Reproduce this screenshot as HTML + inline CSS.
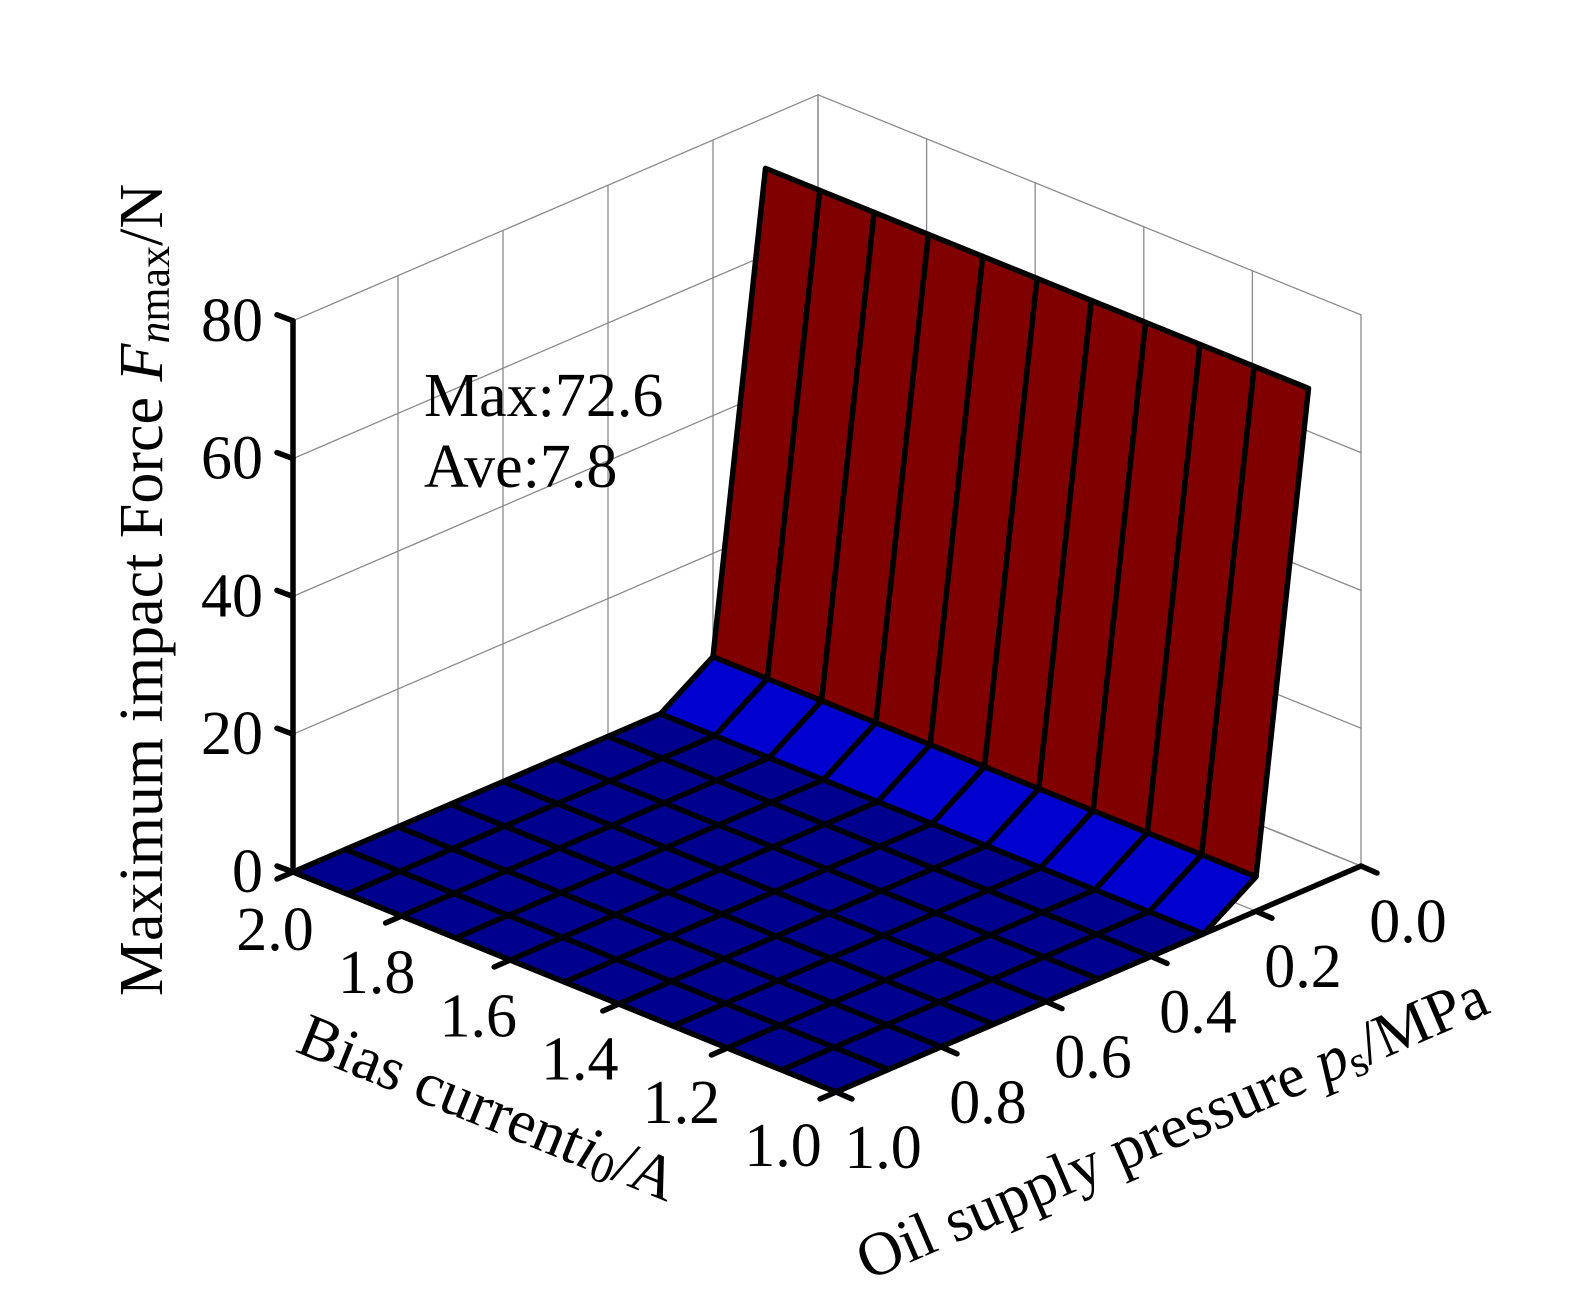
<!DOCTYPE html>
<html><head><meta charset="utf-8"><style>
html,body{margin:0;padding:0;background:#fff;}
svg{display:block;font-family:"Liberation Serif","DejaVu Serif",serif;}
</style></head><body>
<svg id="chart" width="1595" height="1309" viewBox="0 0 1595 1309" xmlns="http://www.w3.org/2000/svg">
<g id="grid"></g>
<g id="surf"></g>
<g id="axes"></g>
<text x="424" y="416" font-size="62">Max:72.6</text>
<text x="424" y="487" font-size="62">Ave:7.8</text>
<text x="0" y="0" font-size="62" text-anchor="middle" dominant-baseline="central" transform="translate(142,590) rotate(-90)">Maximum impact Force <tspan font-style="italic">F</tspan><tspan font-size="44" dy="12"><tspan font-style="italic">n</tspan>max</tspan><tspan dy="-12">/N</tspan></text>
<text x="0" y="0" font-size="62" text-anchor="middle" dominant-baseline="central" transform="translate(488,1108) rotate(22)">Bias current<tspan font-style="italic">i</tspan><tspan font-size="44" dy="12">0</tspan><tspan dy="-12">/A</tspan></text>
<text x="0" y="0" font-size="62" text-anchor="middle" dominant-baseline="central" transform="translate(1172,1128) rotate(-23.3)">Oil supply pressure <tspan font-style="italic">p</tspan><tspan font-size="44" dy="12">s</tspan><tspan dy="-12">/MPa</tspan></text>
</svg>
<script>
const currents = [1.0,1.1,1.2,1.3,1.4,1.5,1.6,1.7,1.8,1.9,2.0];
const pressures = [0.1,0.2,0.3,0.4,0.5,0.6,0.7,0.8,0.9,1.0];
const forceRows = [
 [72.6,72.6,72.6,72.6,72.6,72.6,72.6,72.6,72.6,72.6,72.6],
 [5,5,5,5,5,5,5,5,5,5,5],
 [0,0,0,0,0,0,0,0,0,0,0],
 [0,0,0,0,0,0,0,0,0,0,0],
 [0,0,0,0,0,0,0,0,0,0,0],
 [0,0,0,0,0,0,0,0,0,0,0],
 [0,0,0,0,0,0,0,0,0,0,0],
 [0,0,0,0,0,0,0,0,0,0,0],
 [0,0,0,0,0,0,0,0,0,0,0],
 [0,0,0,0,0,0,0,0,0,0,0]
];
const zTicks = [0,20,40,60,80];
const iTicks = [2.0,1.8,1.6,1.4,1.2,1.0];
const pTicks = [0.0,0.2,0.4,0.6,0.8,1.0];
const iTickLabels = ["2.0","1.8","1.6","1.4","1.2","1.0"];
const pTickLabels = ["0.0","0.2","0.4","0.6","0.8","1.0"];

const NS="http://www.w3.org/2000/svg";
function P(i,p,z){ return [293+(2-i)*543+(1-p)*525, 872+(2-i)*220-(1-p)*226-z*6.89]; }
function mk(tag,parent,attrs){const e=document.createElementNS(NS,tag);for(const k in attrs)e.setAttribute(k,attrs[k]);parent.appendChild(e);return e;}
function line(parent,a,b,stroke,w,name){
  const e=mk('line',parent,{x1:a[0],y1:a[1],x2:b[0],y2:b[1],stroke:stroke,'stroke-width':w,'stroke-linecap':'round'});
  
  
  return e;
}
function jet(t){
  const idx=Math.max(0,Math.min(63,Math.floor(t*63+1e-9)));
  const x=(idx+1)/64;
  const f=v=>Math.max(0,Math.min(1,v));
  const r=f(Math.min(4*x-1.5,-4*x+4.5)),g=f(Math.min(4*x-0.5,-4*x+3.5)),b=f(Math.min(4*x+0.5,-4*x+2.5));
  return `rgb(${Math.round(r*255)},${Math.round(g*255)},${Math.round(b*255)})`;
}
const grid=document.getElementById('grid');
const G='#8a8a8a';
for(const z of zTicks){
  line(grid,P(2,1,z),P(2,0,z),G,1.3,'grid-line-left-wall');
  line(grid,P(2,0,z),P(1,0,z),G,1.3,'grid-line-right-wall');
}
for(const p of pTicks){
  line(grid,P(2,p,0),P(2,p,80),G,1.3,'grid-line-left-wall-vertical');
  line(grid,P(2,p,0),P(1,p,0),G,1.3,'grid-line-floor');
}
for(const i of iTicks){
  line(grid,P(i,0,0),P(i,0,80),G,1.3,'grid-line-right-wall-vertical');
  line(grid,P(i,1,0),P(i,0,0),G,1.3,'grid-line-floor');
}
const surf=document.getElementById('surf');
let zmin=Infinity,zmax=-Infinity;
forceRows.forEach(r=>r.forEach(v=>{zmin=Math.min(zmin,v);zmax=Math.max(zmax,v);}));
for(let pi=0;pi<pressures.length-1;pi++){
  for(let ii=currents.length-1;ii>0;ii--){
    const a=P(currents[ii],pressures[pi],forceRows[pi][ii]);
    const b=P(currents[ii-1],pressures[pi],forceRows[pi][ii-1]);
    const c=P(currents[ii-1],pressures[pi+1],forceRows[pi+1][ii-1]);
    const d=P(currents[ii],pressures[pi+1],forceRows[pi+1][ii]);
    const v=forceRows[pi][ii];
    const col=jet((v-zmin)/(zmax-zmin));
    const poly=mk('polygon',surf,{points:[a,b,c,d].map(q=>q.join(',')).join(' '),fill:col,stroke:'#000','stroke-width':5.5,'stroke-linejoin':'round'});
    
    
  }
}
const axes=document.getElementById('axes');
line(axes,P(2,1,0),P(2,1,80),'#000',5.5,'z-axis-line');
line(axes,P(2,1,0),P(1,1,0),'#000',5.5,'bias-axis-line');
line(axes,P(1,1,0),P(1,0,0),'#000',5.5,'pressure-axis-line');
function txt(x,y,s,anchor,name){
  const t=mk('text',axes,{x:x,y:y,'font-size':62,'text-anchor':anchor,'dominant-baseline':'central'});
  t.textContent=s;
  
  
}
zTicks.forEach(z=>{
  const a=P(2,1,z);
  line(axes,a,[a[0]-16,a[1]-6],'#000',5.5,'z-tick');
  txt(a[0]-30,a[1],String(z),'end','z-tick-label');
});
iTicks.forEach((i,k)=>{
  const a=P(i,1,0);
  line(axes,a,[a[0]-16,a[1]+7],'#000',5.5,'bias-tick');
  txt(a[0]-18-(2-i)*35,a[1]+58-(2-i)*4,iTickLabels[k],'middle','bias-tick-label');
});
pTicks.forEach((p,k)=>{
  const a=P(1,p,0);
  line(axes,a,[a[0]+16,a[1]+7],'#000',5.5,'pressure-tick');
  txt(a[0]+47,a[1]+56,pTickLabels[k],'middle','pressure-tick-label');
});
</script>
</body></html>
